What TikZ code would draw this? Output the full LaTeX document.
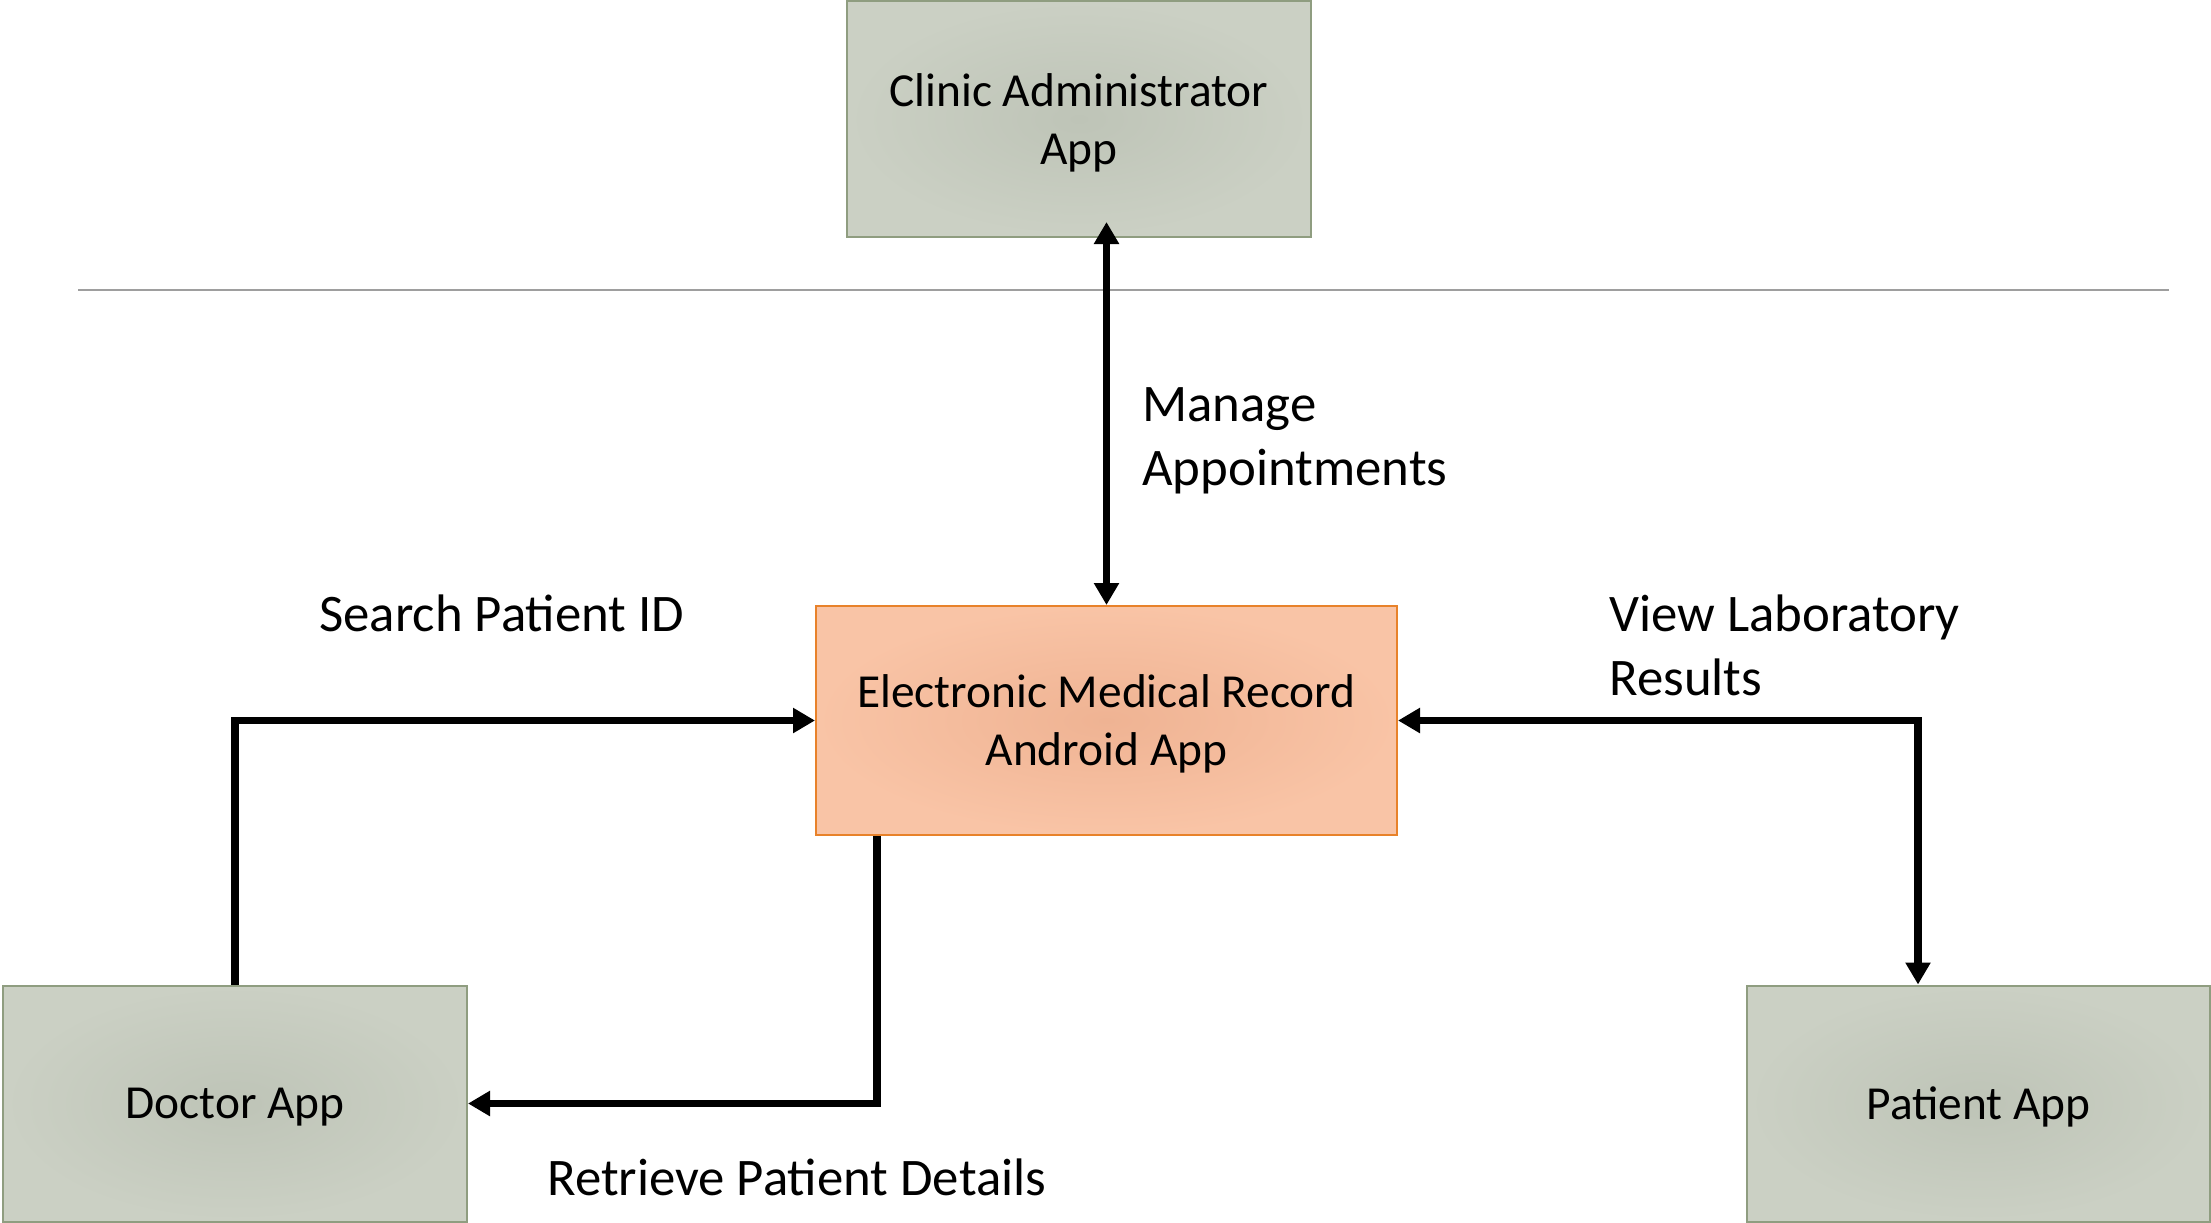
\documentclass[tikz,border=0pt]{standalone}
\usepackage{fontspec}
\setmainfont{Carlito}
\usetikzlibrary{arrows.meta}

\definecolor{appedge}{RGB}{143,157,128}
\definecolor{appin}{RGB}{190,196,183}
\definecolor{appout}{RGB}{203,208,196}
\definecolor{emredge}{RGB}{232,130,42}
\definecolor{emrin}{RGB}{239,179,147}
\definecolor{emrout}{RGB}{249,196,166}

\tikzset{
  appbox/.style={draw=appedge, line width=1pt, inner color=appin, outer color=appout,
    minimum width=232pt, minimum height=118pt, align=center, text depth=0pt,
    font=\fontsize{23.7}{29}\selectfont},
  emrbox/.style={draw=emredge, line width=1pt, inner color=emrin, outer color=emrout,
    minimum width=290.5pt, minimum height=114.5pt, align=center, text depth=0pt,
    font=\fontsize{23.7}{29}\selectfont},
  lbl/.style={align=left, inner sep=0pt, font=\fontsize{26.4}{32}\selectfont},
  flow/.style={line width=3.6pt, line join=miter,
    -{Triangle[length=11pt,width=12pt]}},
  biflow/.style={line width=3.6pt, line join=miter,
    {Triangle[length=11pt,width=12pt]}-{Triangle[length=11pt,width=12pt]}},
  divider/.style={draw=black!38, line width=0.8pt}
}

\begin{document}
\begin{tikzpicture}[x=0.5pt,y=-0.5pt]
\useasboundingbox (0,0) rectangle (2211,1222);

% boxes
\node[appbox] (admin) at (1079,119) {Clinic Administrator\\App};
\node[emrbox] (emr) at (1106.5,720.5) {Electronic Medical Record\\Android App};
\node[appbox] (doc) at (235,1103.5) {Doctor App};
\node[appbox, minimum width=231.5pt] (pat) at (1978.5,1103.5) {Patient App};

% separator under the administrator tier
\coordinate (sepL) at (78,290);
\coordinate (sepR) at (2169,290);
\draw[divider] (sepL) -- (sepR);

% connectors
\coordinate (admTip) at ([yshift=8pt]emr.north |- admin.south);
\draw[biflow] (emr.north) -- (admTip);

\draw[flow] (doc.north) |- (emr.west);

\coordinate (emrOut) at ([xshift=31pt]emr.south west);
\draw[flow] (emrOut) |- (doc.east);

\coordinate (patIn) at ([xshift=86pt]pat.north west);
\draw[biflow] (emr.east) -| (patIn);

% labels
\node[lbl, anchor=west] (lmanage) at (1142,441) {Manage\\Appointments};
\node[lbl, anchor=west] (lsearch) at (319,613) {Search Patient ID};
\node[lbl, anchor=west] (lview) at (1609,645) {View Laboratory\\Results};
\node[lbl, anchor=west] (lretr) at (547,1177) {Retrieve Patient Details};
\end{tikzpicture}
\end{document}
